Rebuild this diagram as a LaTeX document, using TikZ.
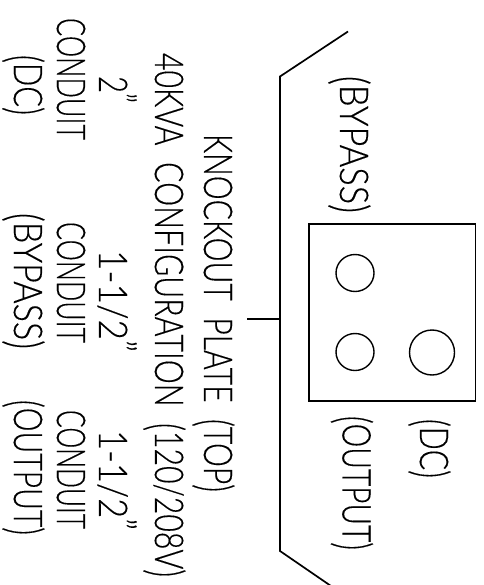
\documentclass[tikz,border=0pt]{standalone}
\usepackage{fontspec}
\usepackage{graphicx}
\setmainfont{Lato Light}[FakeBold=0.3]
\usetikzlibrary{shapes.geometric}
\tikzset{
  plate/.style={draw=black,line width=1.7pt,line join=miter},
  hole/.style={draw=black,line width=1.4pt,ellipse,inner sep=0pt},
  lbl/.style={rotate=-90,inner sep=0pt,outer sep=0pt,text=black}
}
\newsavebox{\capb}
\newsavebox{\capH}
% the box is measured by its capitals only, so that brackets and marks overhang it
\newcommand{\capfit}[2]{\sbox{\capH}{H}\sbox{\capb}{#2}\ht\capb=\ht\capH \dp\capb=0pt \resizebox{#1pt}{28pt}{\usebox{\capb}}}
\newcommand{\lab}[5]{\node[lbl] (#1) at (#2,#3) {\capfit{#4}{#5}};}
\newcommand{\gp}{\hspace{0.55em}}
\newcommand{\qt}{\raisebox{.2em}{”}}
\newcommand{\lp}{\raisebox{-.14em}{\scalebox{1}[1.2]{(}}}
\newcommand{\rp}{\raisebox{-.14em}{\scalebox{1}[1.2]{)}}}
\begin{document}
\begin{tikzpicture}[x=1pt,y=-1pt]
\useasboundingbox (0,0) rectangle (483,585);
\fill[white] (0,0) rectangle (483,585);
% plate outline
\coordinate (pa) at (348,31.5);
\coordinate (pb) at (280,76.5);
\coordinate (pc) at (280,551);
\coordinate (pd) at (331,586);
\coordinate (tick) at (280,319);
\coordinate (tickend) at (247,319);
\draw[plate] (pa) -- (pb) -- (pc) -- (pd);
\draw[plate] (tickend) -- (tick);
\node[plate,rectangle,minimum width=166.5pt,minimum height=177pt,inner sep=0pt] (box) at (392.25,312.5) {};
\node[hole,minimum width=38pt,minimum height=37pt] (h1) at (355,273) {};
\node[hole,minimum width=38pt,minimum height=37pt] (h2) at (355,352) {};
\node[hole,minimum width=45pt,minimum height=45pt] (h3) at (432,352.5) {};
% right labels
\lab{r1}{354}{144.5}{137}{\lp BYPASS\rp}
\lab{r2}{356.5}{483}{134}{\lp OUTPUT\rp}
\lab{r3}{434}{448.5}{59}{\lp DC\rp}
% central titles
\lab{t1}{218}{313}{358}{KNOCKOUT\gp PLATE\gp \lp TOP\rp}
\lab{t2}{169}{315}{524}{40KVA\gp CONFIGURATION\gp \lp 120/208V\rp}
% conduit columns
\lab{a1}{113}{89.5}{27}{2\qt}
\lab{a2}{71}{79}{122}{CONDUIT}
\lab{a3}{28}{85}{60}{\lp DC\rp}
\lab{b1}{113}{301}{102}{1-1/2\qt}
\lab{b2}{71}{282.5}{121}{CONDUIT}
\lab{b3}{28}{281}{136}{\lp BYPASS\rp}
\lab{c1}{113}{480}{100}{1-1/2\qt}
\lab{c2}{71}{469.5}{119}{CONDUIT}
\lab{c3}{28}{467.5}{135}{\lp OUTPUT\rp}
\end{tikzpicture}
\end{document}
